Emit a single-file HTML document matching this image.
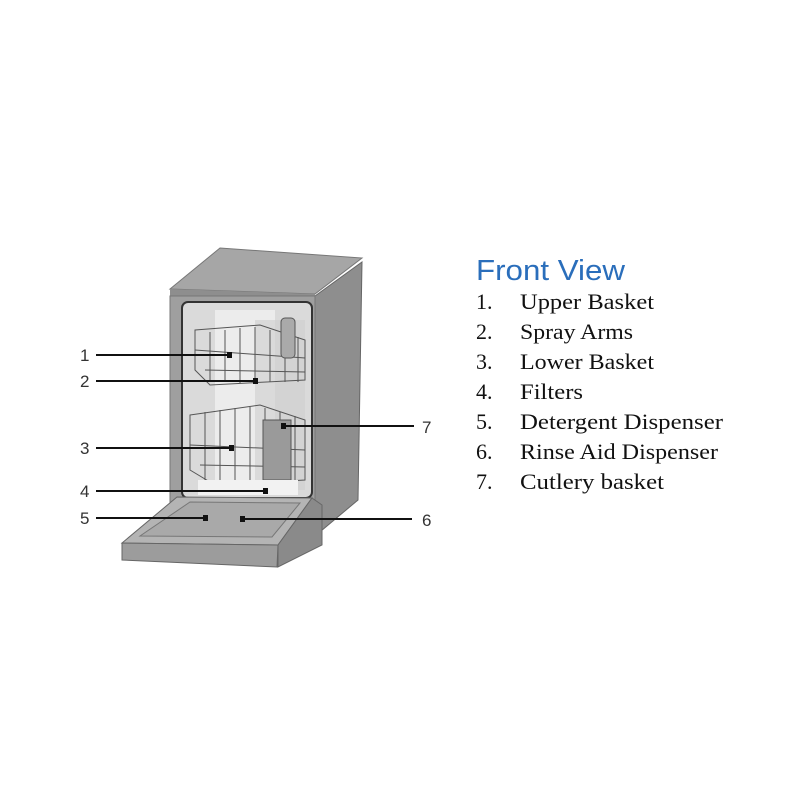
<!DOCTYPE html>
<html><head><style>html,body{margin:0;padding:0;background:#fff}</style></head>
<body>
<svg width="800" height="800" viewBox="0 0 800 800" xmlns="http://www.w3.org/2000/svg">
<rect width="800" height="800" fill="#fff"/>
<polygon points="315,296 362,262 358,500 315,536" fill="#8e8e8e" stroke="#666" stroke-width="1"/>
<polygon points="170,289 220,248 362,258 315,294" fill="#a6a6a6" stroke="#777" stroke-width="1"/>
<polygon points="170,289 315,294 315,300 170,296" fill="#8e8e8e"/>
<rect x="170" y="296" width="145" height="220" fill="#9f9f9f" stroke="#777"/>
<rect x="182" y="302" width="130" height="196" rx="6" fill="#dadada" stroke="#333" stroke-width="2"/>
<rect x="215" y="310" width="60" height="180" fill="#ececec"/>
<rect x="255" y="320" width="50" height="170" fill="#cfcfcf" opacity="0.6"/>
<g stroke="#555" stroke-width="1" fill="none">
<polygon points="195,330 260,325 305,340 305,380 210,385 195,370"/>
<line x1="195" y1="350" x2="305" y2="358"/><line x1="205" y1="370" x2="305" y2="372"/>
<path d="M210,332 v50 M225,330 v52 M240,328 v55 M255,327 v55 M270,330 v52 M285,334 v48 M298,337 v45"/>
<polygon points="190,415 260,405 305,420 305,480 215,485 190,470"/>
<line x1="190" y1="445" x2="305" y2="450"/><line x1="200" y1="465" x2="305" y2="467"/>
<path d="M205,412 v70 M220,410 v74 M235,408 v76 M250,407 v77 M265,408 v76 M280,412 v72 M295,416 v66"/>
</g>
<rect x="263" y="420" width="28" height="60" fill="#9a9a9a" stroke="#555"/>
<rect x="281" y="318" width="14" height="40" rx="4" fill="#aaa" stroke="#555"/>
<rect x="198" y="480" width="100" height="15" fill="#f2f2f2"/>
<polygon points="177,497 312,498 278,545 122,543" fill="#b4b4b4" stroke="#666"/>
<polygon points="190,502 300,503 272,537 140,536" fill="#a9a9a9" stroke="#777"/>
<polygon points="122,543 278,545 277,567 122,560" fill="#9c9c9c" stroke="#666"/>
<polygon points="312,498 322,505 322,545 278,567 278,545" fill="#8a8a8a" stroke="#666"/>
<g stroke="#111" stroke-width="2">
<line x1="96" y1="355" x2="230" y2="355"/>
<line x1="96" y1="381" x2="256" y2="381"/>
<line x1="96" y1="448" x2="232" y2="448"/>
<line x1="96" y1="491" x2="266" y2="491"/>
<line x1="96" y1="518" x2="205" y2="518"/>
<line x1="243" y1="519" x2="412" y2="519"/>
<line x1="283" y1="426" x2="414" y2="426"/>
</g>
<g fill="#111"><rect x="227" y="352" width="5" height="6"/><rect x="253" y="378" width="5" height="6"/><rect x="229" y="445" width="5" height="6"/><rect x="263" y="488" width="5" height="6"/><rect x="203" y="515" width="5" height="6"/><rect x="240" y="516" width="5" height="6"/><rect x="281" y="423" width="5" height="6"/></g>
<g font-family="Liberation Sans, sans-serif" font-size="17" fill="#333">
<text x="80" y="361">1</text><text x="80" y="387">2</text><text x="80" y="454">3</text><text x="80" y="497">4</text><text x="80" y="524">5</text><text x="422" y="526">6</text><text x="422" y="433">7</text>
</g>
<text x="476" y="280" font-family="Liberation Sans, sans-serif" font-size="29" fill="#2a6ebb" textLength="149" lengthAdjust="spacingAndGlyphs">Front View</text>
<g font-family="Liberation Serif, serif" font-size="22" fill="#111">
<text x="476" y="309">1.</text><text x="520" y="309" textLength="134" lengthAdjust="spacingAndGlyphs">Upper Basket</text>
<text x="476" y="339">2.</text><text x="520" y="339" textLength="113" lengthAdjust="spacingAndGlyphs">Spray Arms</text>
<text x="476" y="369">3.</text><text x="520" y="369" textLength="134" lengthAdjust="spacingAndGlyphs">Lower Basket</text>
<text x="476" y="399">4.</text><text x="520" y="399" textLength="63" lengthAdjust="spacingAndGlyphs">Filters</text>
<text x="476" y="429">5.</text><text x="520" y="429" textLength="203" lengthAdjust="spacingAndGlyphs">Detergent Dispenser</text>
<text x="476" y="459">6.</text><text x="520" y="459" textLength="198" lengthAdjust="spacingAndGlyphs">Rinse Aid Dispenser</text>
<text x="476" y="489">7.</text><text x="520" y="489" textLength="144" lengthAdjust="spacingAndGlyphs">Cutlery basket</text>
</g>
</svg>
</body></html>
